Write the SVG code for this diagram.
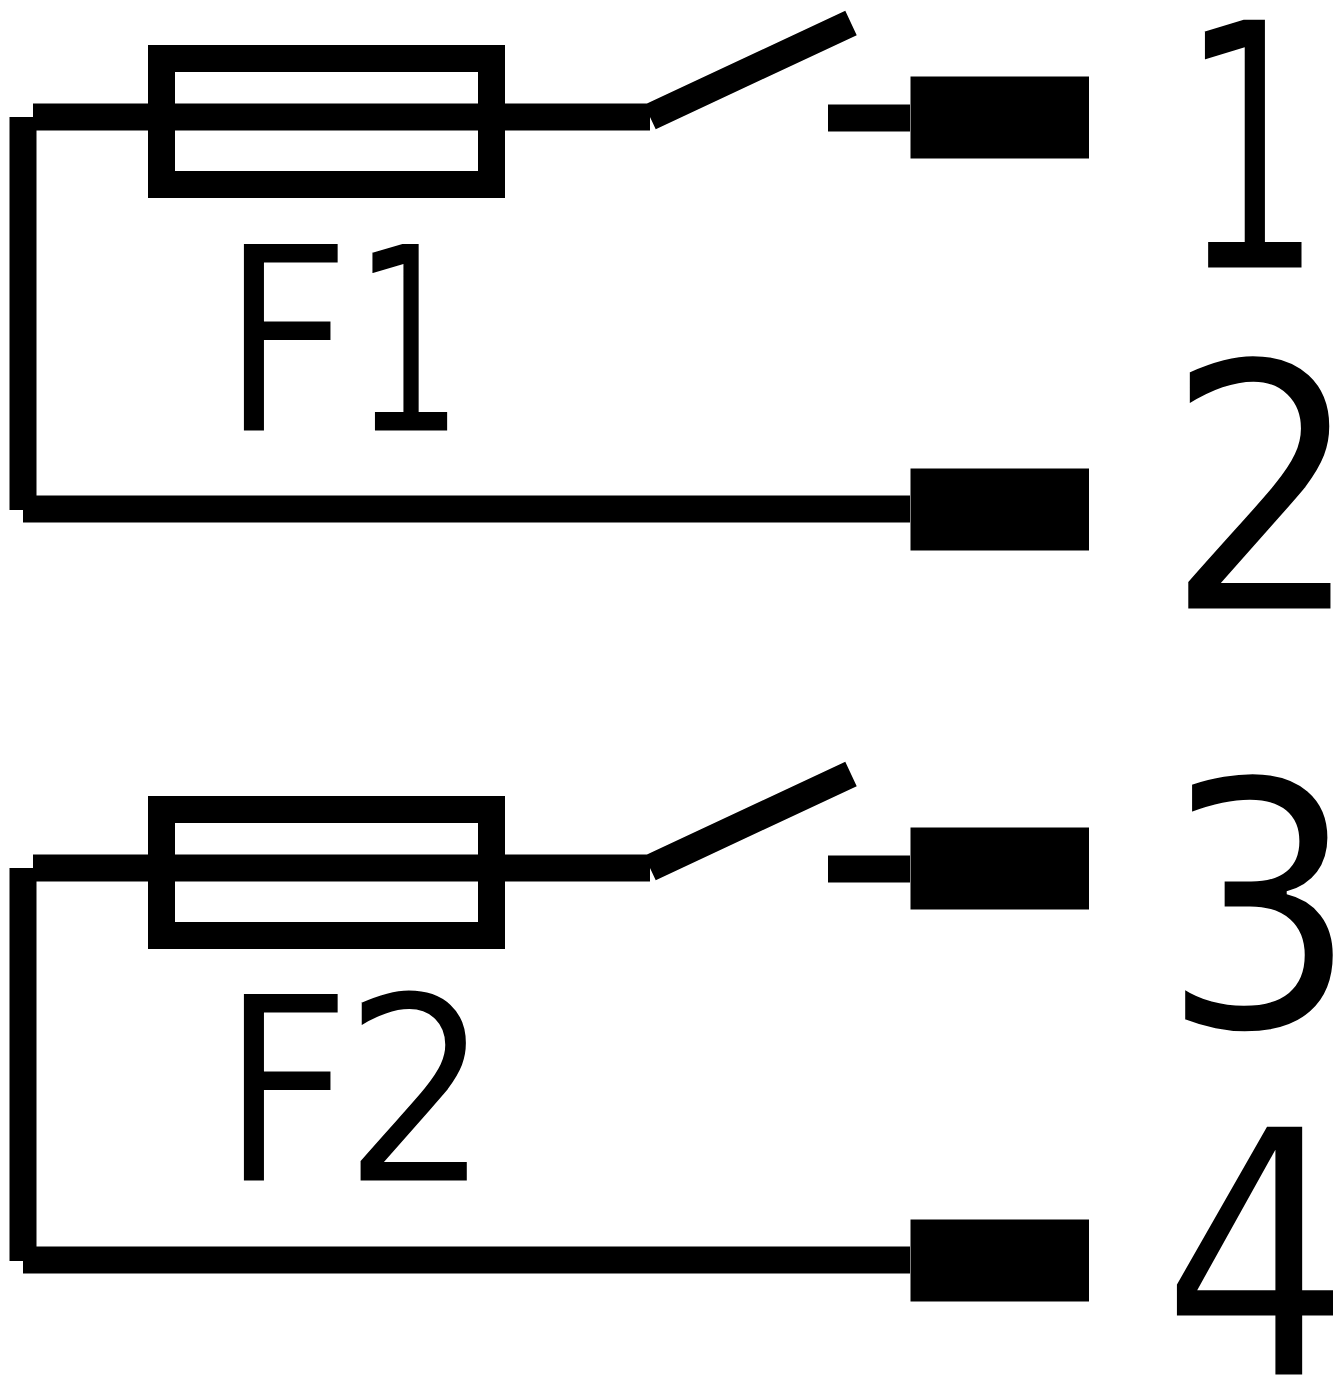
<svg xmlns="http://www.w3.org/2000/svg" width="1333" height="1376" viewBox="0 0 1333 1376">
<style>
.w{fill:none;stroke:#000;stroke-width:27;stroke-linecap:butt}
.t{fill:#000;stroke:none}
text{font-family:"DejaVu Sans",sans-serif;fill:#000;stroke:#fff;stroke-width:3}
</style>
<rect width="1333" height="1376" fill="#fff"/>
<defs>
<g id="circuit">
<path class="w" d="M33 117H650M23 117V510M23 509H910M828 118H910M650 117L851 23"/>
<rect class="w" x="161.500" y="58.500" width="330" height="126"/>
<rect class="t" x="910.500" y="76.500" width="178.500" height="82"/>
<rect class="t" x="910.500" y="468.500" width="178.500" height="82"/>
</g>
</defs>
<g id="connectors-1"><use href="#circuit"/></g>
<g id="connectors-2"><use href="#circuit" y="751"/></g>
<g id="labels">
<text transform="translate(220 432) scale(.885 1)" font-size="260">F</text>
<text transform="translate(352 432) scale(.68 1)" font-size="260">1</text>
<text transform="translate(220 1182) scale(.885 1)" font-size="260">F</text>
<text transform="translate(342 1182) scale(.905 1)" font-size="260">2</text>
<text transform="translate(1179 269) scale(.66 1)" font-size="344">1</text>
<text transform="translate(1164 610) scale(.91 1)" font-size="344">2</text>
<text transform="translate(1160 1028) scale(.91 1)" font-size="344">3</text>
<text transform="translate(1161 1376) scale(.87 1)" font-size="344">4</text>
</g>
</svg>
